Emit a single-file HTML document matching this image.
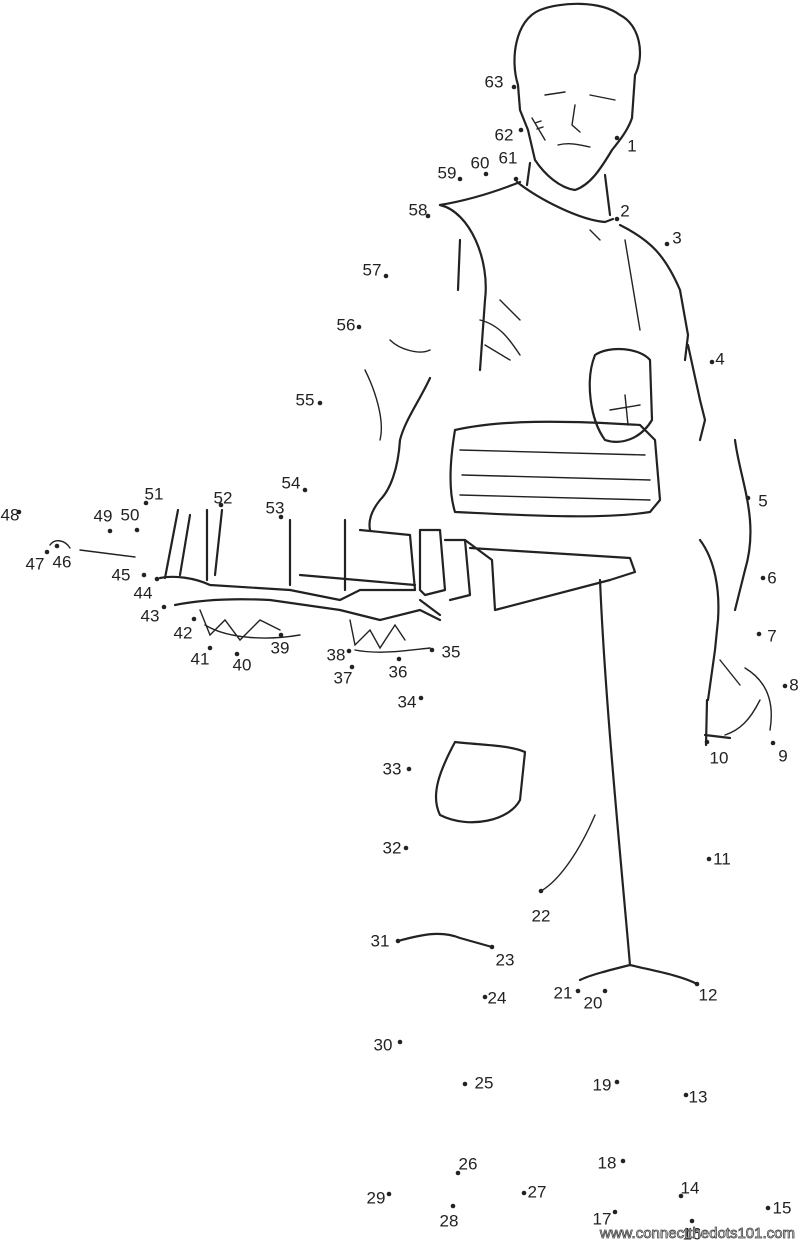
<!DOCTYPE html>
<html><head><meta charset="utf-8"><style>
html,body{margin:0;padding:0;background:#fff;}
svg{display:block;}
text{font-family:"Liberation Sans",Arial,sans-serif;font-size:17px;fill:#222;}
.l{fill:none;stroke:#222;stroke-width:2.2;stroke-linecap:round;stroke-linejoin:round;}
.t{fill:none;stroke:#222;stroke-width:1.4;stroke-linecap:round;}
</style></head><body>
<svg width="800" height="1241" viewBox="0 0 800 1241" xmlns="http://www.w3.org/2000/svg">
<!-- hair/head -->
<path class="l" d="M518,85 C510,60 515,20 540,10 C560,2 600,0 620,15 C640,25 645,55 635,75 L632,118 C628,130 620,140 612,150 C600,170 590,185 575,190 C560,188 545,175 535,160 L528,130 L520,110 Z"/>
<path class="t" d="M545,95 L565,92 M590,95 L615,100 M575,105 L572,125 L580,132 M558,145 C570,142 580,145 590,147"/>
<path class="t" d="M532,118 L545,140 M535,123 L541,121 M537,129 L543,127"/>
<!-- neck/shoulders -->
<path class="l" d="M530,163 L527,185 M605,175 L610,215"/>
<path class="l" d="M440,205 C470,200 500,190 520,182 M517,182 C540,200 580,220 605,222 L613,219"/>
<path class="l" d="M440,205 C470,212 490,260 485,300 L480,370 M460,240 L458,290"/>
<path class="l" d="M620,225 C650,240 665,255 680,290 L688,335 L685,360"/>
<path class="t" d="M625,240 L640,330 M590,230 L600,240"/>
<!-- chest -->
<path class="t" d="M480,320 C500,325 510,340 520,355 M485,345 L510,360 M500,300 L520,320"/>
<path class="l" d="M595,355 C610,345 640,348 650,360 L652,420 C640,440 620,445 605,440 C590,420 585,380 595,355 Z"/>
<path class="t" d="M610,410 L640,405 M625,395 L628,425"/>
<!-- arm left -->
<path class="l" d="M430,378 C420,400 405,420 400,440 C398,470 390,490 380,500 C372,510 368,520 370,530"/>
<path class="t" d="M390,340 C400,350 420,355 430,350 M365,370 C375,390 385,420 380,440"/>
<!-- sash -->
<path class="l" d="M455,430 C500,420 560,420 640,425 L655,440 L660,500 L650,512 C600,520 520,515 455,512 C448,490 450,460 455,430 Z"/>
<path class="t" d="M460,450 L645,455 M462,475 L650,480 M460,495 L650,500"/>
<!-- right arm -->
<path class="l" d="M688,345 L700,400 L705,420 L700,440 M735,440 C740,480 760,520 745,570 L735,610 M700,540 C715,560 720,590 718,620 L715,650 L708,700"/>
<path class="t" d="M720,660 L740,685 M745,668 C765,680 775,700 770,730 M760,700 C750,720 740,730 725,735"/>
<path class="l" d="M705,735 L730,738 M707,700 L706,745"/>
<!-- skirt/legs -->
<path class="l" d="M465,540 L492,560 L495,610 L610,580 L635,572 L630,558 L470,548"/>
<path class="l" d="M600,580 C605,700 620,850 630,965 C610,970 590,975 580,980 M630,965 C650,970 680,975 697,984"/>
<path class="l" d="M455,742 C480,745 510,745 525,752 L520,800 C510,820 470,830 440,815 C430,795 440,770 455,742 Z"/>
<path class="t" d="M595,815 C580,850 560,880 541,891"/>
<path class="l" d="M398,941 C420,935 440,930 460,938 L492,947"/>
<!-- weapon/hand -->
<path class="l" d="M360,530 L410,535 L415,590 L360,590 L340,600 L290,590 M290,520 L290,585 M345,520 L345,590"/>
<path class="l" d="M420,530 L440,530 L445,590 L425,595 L420,590 Z M445,540 L465,540 L470,595 L450,600"/>
<path class="l" d="M160,578 C175,575 195,578 210,585 L290,590 M175,605 C200,600 230,598 270,600 L340,610 L380,620 L420,610 L440,620 M420,600 L440,615 M300,575 L415,585"/>
<path class="l" d="M207,510 L207,580 M222,510 L215,575 M178,510 L165,578 M190,515 L180,575"/>
<path class="t" d="M200,610 L210,635 L225,620 L240,640 L260,620 L280,630 M350,620 L355,645 L370,630 L380,648 L395,625 L405,640 M205,625 C230,640 270,640 300,635 M355,650 C380,655 410,650 430,648"/>
<path class="t" d="M80,550 L135,557 M50,545 C55,538 65,540 70,548"/>
<!-- dots -->
<g fill="#222">
<circle cx="617" cy="138" r="2.3"/><circle cx="617" cy="219" r="2.3"/><circle cx="667" cy="244" r="2.3"/><circle cx="712" cy="362" r="2.3"/>
<circle cx="748" cy="498" r="2.3"/><circle cx="763" cy="578" r="2.3"/><circle cx="759" cy="634" r="2.3"/><circle cx="785" cy="686" r="2.3"/>
<circle cx="773" cy="743" r="2.3"/><circle cx="707" cy="742" r="2.3"/><circle cx="709" cy="859" r="2.3"/><circle cx="697" cy="984" r="2.3"/>
<circle cx="686" cy="1095" r="2.3"/><circle cx="681" cy="1196" r="2.3"/><circle cx="768" cy="1208" r="2.3"/><circle cx="692" cy="1221" r="2.3"/>
<circle cx="615" cy="1212" r="2.3"/><circle cx="623" cy="1161" r="2.3"/><circle cx="617" cy="1082" r="2.3"/><circle cx="605" cy="991" r="2.3"/>
<circle cx="578" cy="991" r="2.3"/><circle cx="541" cy="891" r="2.3"/><circle cx="492" cy="947" r="2.3"/><circle cx="485" cy="997" r="2.3"/>
<circle cx="465" cy="1084" r="2.3"/><circle cx="458" cy="1173" r="2.3"/><circle cx="524" cy="1193" r="2.3"/><circle cx="453" cy="1206" r="2.3"/>
<circle cx="389" cy="1194" r="2.3"/><circle cx="400" cy="1042" r="2.3"/><circle cx="398" cy="941" r="2.3"/><circle cx="406" cy="848" r="2.3"/>
<circle cx="409" cy="769" r="2.3"/><circle cx="421" cy="698" r="2.3"/><circle cx="432" cy="650" r="2.3"/><circle cx="399" cy="659" r="2.3"/>
<circle cx="352" cy="667" r="2.3"/><circle cx="349" cy="651" r="2.3"/><circle cx="281" cy="635" r="2.3"/><circle cx="237" cy="654" r="2.3"/>
<circle cx="210" cy="648" r="2.3"/><circle cx="194" cy="619" r="2.3"/><circle cx="164" cy="607" r="2.3"/><circle cx="157" cy="579" r="2.3"/>
<circle cx="144" cy="575" r="2.3"/><circle cx="57" cy="546" r="2.3"/><circle cx="47" cy="552" r="2.3"/><circle cx="19" cy="512" r="2.3"/>
<circle cx="110" cy="531" r="2.3"/><circle cx="137" cy="530" r="2.3"/><circle cx="146" cy="503" r="2.3"/><circle cx="221" cy="505" r="2.3"/>
<circle cx="281" cy="517" r="2.3"/><circle cx="305" cy="490" r="2.3"/><circle cx="320" cy="403" r="2.3"/><circle cx="359" cy="327" r="2.3"/>
<circle cx="386" cy="276" r="2.3"/><circle cx="428" cy="216" r="2.3"/><circle cx="460" cy="179" r="2.3"/><circle cx="486" cy="174" r="2.3"/>
<circle cx="516" cy="179" r="2.3"/><circle cx="521" cy="130" r="2.3"/><circle cx="514" cy="87" r="2.3"/>
</g>
<g text-anchor="middle" dominant-baseline="central">
<text x="632" y="146">1</text><text x="625" y="211">2</text><text x="677" y="238">3</text><text x="720" y="359">4</text>
<text x="763" y="501">5</text><text x="772" y="578">6</text><text x="772" y="636">7</text><text x="794" y="685">8</text>
<text x="783" y="756">9</text><text x="719" y="758">10</text><text x="722" y="859">11</text><text x="708" y="995">12</text>
<text x="698" y="1097">13</text><text x="690" y="1188">14</text><text x="782" y="1208">15</text><text x="692" y="1234">16</text>
<text x="602" y="1219">17</text><text x="607" y="1163">18</text><text x="602" y="1085">19</text><text x="593" y="1003">20</text>
<text x="563" y="993">21</text><text x="541" y="916">22</text><text x="505" y="960">23</text><text x="497" y="998">24</text>
<text x="484" y="1083">25</text><text x="468" y="1164">26</text><text x="537" y="1192">27</text><text x="449" y="1221">28</text>
<text x="376" y="1198">29</text><text x="383" y="1045">30</text><text x="380" y="941">31</text><text x="392" y="848">32</text>
<text x="392" y="769">33</text><text x="407" y="702">34</text><text x="451" y="652">35</text><text x="398" y="672">36</text>
<text x="343" y="678">37</text><text x="336" y="655">38</text><text x="280" y="648">39</text><text x="242" y="665">40</text>
<text x="200" y="659">41</text><text x="183" y="633">42</text><text x="150" y="616">43</text><text x="143" y="593">44</text>
<text x="121" y="575">45</text><text x="62" y="562">46</text><text x="35" y="564">47</text><text x="10" y="515">48</text>
<text x="103" y="516">49</text><text x="130" y="515">50</text><text x="154" y="494">51</text><text x="223" y="498">52</text>
<text x="275" y="508">53</text><text x="291" y="483">54</text><text x="305" y="400">55</text><text x="346" y="325">56</text>
<text x="372" y="270">57</text><text x="418" y="210">58</text><text x="447" y="173">59</text><text x="480" y="163">60</text>
<text x="508" y="158">61</text><text x="504" y="135">62</text><text x="494" y="82">63</text>
</g>
<text x="795" y="1238" text-anchor="end" style="font-size:15px;fill:#fff;stroke:#444;stroke-width:0.8">www.connectthedots101.com</text>
</svg>
</body></html>
